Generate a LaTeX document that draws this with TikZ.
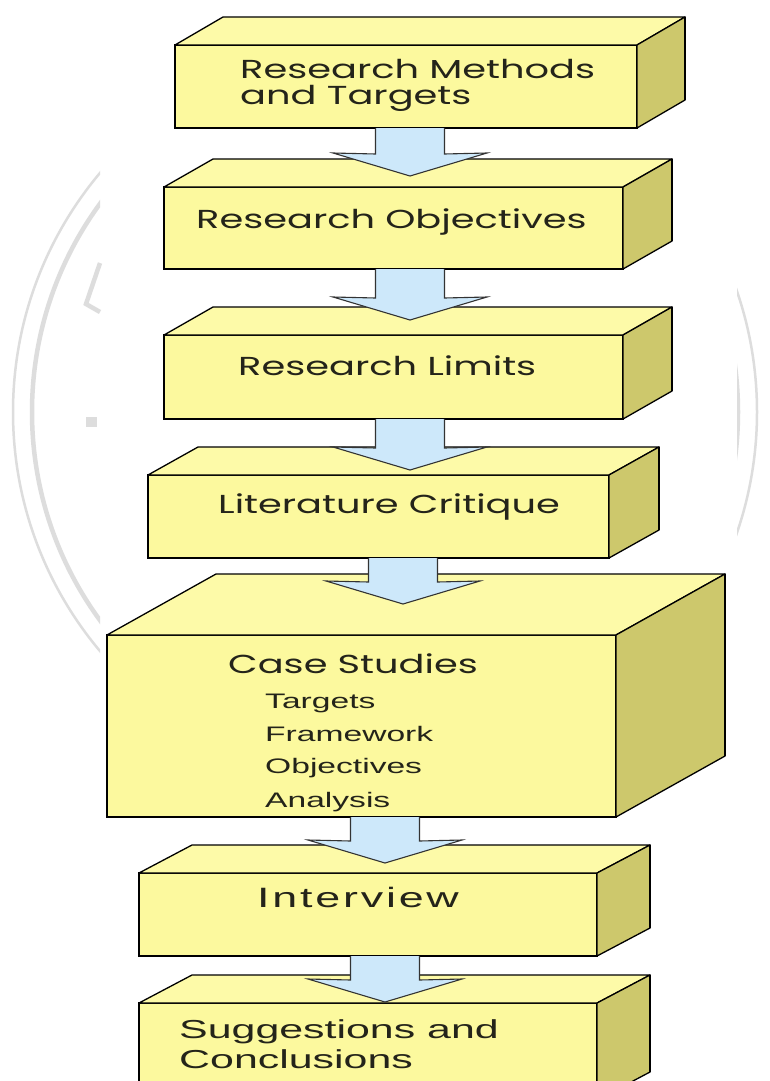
\documentclass[tikz,border=0pt]{standalone}
\usepackage{fontspec}
\usetikzlibrary{calc}

% geometric face for the box titles, sans face for the detail lines
\newfontfamily\gothic[FakeStretch=1.475]{Poppins}
\newfontfamily\plainsans[FakeStretch=1.6]{Liberation Sans}
\newfontfamily\widesans[FakeStretch=1.6,LetterSpace=10]{Liberation Sans}
\newfontfamily\closingsans[FakeStretch=1.65]{Liberation Sans}

\definecolor{facefront}{RGB}{252,249,158}
\definecolor{facetop}{RGB}{253,250,168}
\definecolor{faceside}{RGB}{205,200,108}
\definecolor{arrowblue}{RGB}{205,232,250}
\definecolor{inkdark}{RGB}{36,36,26}
\definecolor{ringgray}{RGB}{221,221,221}

\tikzset{
  frontface/.style={draw=black, fill=facefront, line width=1.3pt, outer sep=0pt,
                    inner sep=0pt, rectangle},
  topface/.style={draw=black, fill=facetop, line width=1.3pt, line join=round},
  sideface/.style={draw=black, fill=faceside, line width=1.3pt, line join=round},
  flow/.style={draw=black!80, fill=arrowblue, line width=1.1pt, line join=miter},
  titletext/.style={anchor=base west, inner sep=0pt, text=inkdark,
                    font=\gothic\fontsize{26}{30}\selectfont},
  itemtext/.style={anchor=base west, inner sep=0pt, text=inkdark,
                   font=\plainsans\fontsize{21}{24}\selectfont},
  closingtext/.style={anchor=base west, inner sep=0pt, text=inkdark,
                   font=\closingsans\fontsize{26}{30}\selectfont},
  ring/.style={draw=ringgray, line width=2.5pt},
  ringbold/.style={draw=ringgray, line width=4.5pt},
}

% a slab: front face as a node, then its top and right faces
% #1 name, #2 left, #3 top, #4 right, #5 bottom, #6 depth x, #7 depth y
\newcommand{\slab}[7]{%
  \node[frontface, minimum width={(#4-#2)*1pt}, minimum height={(#5-#3)*1pt}]
       (#1) at ({(#2+#4)/2},{(#3+#5)/2}) {};
  \filldraw[topface] (#1.north west) -- ++(#6,-#7)
       -- ($(#1.north east)+(#6,-#7)$) -- (#1.north east) -- cycle;
  \filldraw[sideface] (#1.north east) -- ++(#6,-#7)
       -- ($(#1.south east)+(#6,-#7)$) -- (#1.south east) -- cycle;
  \draw[line width=2.4pt] ($(#1.north east)+(#6,-#7)$) -- ($(#1.south east)+(#6,-#7)$);
}

% a block arrow hanging from one slab onto the next
% #1 source, #2 target, #3 centre x, #4 height of the tip above the target
\newcommand{\flowarrow}[4]{%
  \filldraw[flow] let \p1=(#1.south), \p2=(#2.north) in
    ({#3pt-34.5pt},\y1) -- ({#3pt-34.5pt},{\y2+#4pt+22pt})
    -- ({#3pt-77pt},{\y2+#4pt+23pt}) -- ({#3pt},{\y2+#4pt})
    -- ({#3pt+77pt},{\y2+#4pt+23pt}) -- ({#3pt+34.5pt},{\y2+#4pt+22pt})
    -- ({#3pt+34.5pt},\y1);
}

\begin{document}
\begin{tikzpicture}[x=1pt,y=-1pt]
  \fill[white] (0,0) rectangle (769,1081);
  \useasboundingbox (0,0) rectangle (769,1081);
  \clip (0,0) rectangle (769,1081);

  % faint rings behind the chart
  \begin{scope}
    \clip (0,0) rectangle (100,1081);
    \draw[ring] (385,412) circle[radius=372pt];
    \draw[ringbold] (385,412) circle[radius=353pt];
  \end{scope}
  \begin{scope}
    \clip (737,0) rectangle (769,1081);
    \draw[ring] (385,412) circle[radius=372pt];
    \draw[ringbold] (385,412) circle[radius=353pt];
  \end{scope}
  \draw[ringbold, line join=miter] (100,263) -- (86,304) -- (100,312);
  \fill[ringgray] (86,417) rectangle (97,427);

  % slabs
  \slab{methods}{175}{45}{637}{128}{48}{28}
  \slab{objectives}{164}{187}{623}{269}{49}{28}
  \slab{limits}{164}{335}{623}{419}{49}{28}
  \slab{critique}{148}{475}{609}{558}{50}{28}
  \slab{cases}{107}{635}{616}{817}{109}{61}
  \slab{interview}{139}{873}{597}{956}{53}{28}
  \slab{conclusions}{139}{1003}{597}{1100}{53}{28}

  % labels
  \node[titletext] (methodsA) at (240,78) {Research Methods};
  \node[titletext] (methodsB) at (240,104) {and Targets};
  \node[titletext] (objectivesT) at (196,228) {Research Objectives};
  \node[titletext] (limitsT) at (238,375) {Research Limits};
  \node[titletext] (critiqueT) at (218,513) {Literature Critique};
  \node[titletext] (casesT) at (228,673) {Case Studies};
  \node[itemtext] (itemA) at (265,708) {Targets};
  \node[itemtext] (itemB) at (265,741) {Framework};
  \node[itemtext] (itemC) at (265,773) {Objectives};
  \node[itemtext] (itemD) at (265,807) {Analysis};
  \node[anchor=base west, inner sep=0pt, text=inkdark,
        font=\widesans\fontsize{28}{32}\selectfont] (interviewT) at (257,907) {Interview};
  \node[closingtext] (conclA) at (179,1038) {Suggestions and};
  \node[closingtext] (conclB) at (179,1068) {Conclusions};

  % arrows between the slabs
  \flowarrow{methods}{objectives}{410}{11}
  \flowarrow{objectives}{limits}{410}{15}
  \flowarrow{limits}{critique}{410}{5}
  \flowarrow{critique}{cases}{403}{31}
  \flowarrow{cases}{interview}{385}{10}
  \flowarrow{interview}{conclusions}{385}{1}
\end{tikzpicture}
\end{document}
